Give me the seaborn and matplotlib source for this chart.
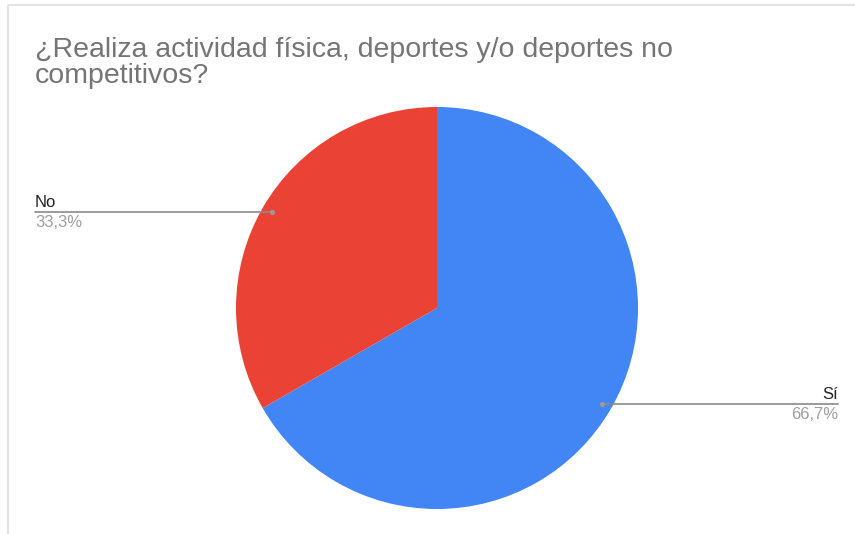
import matplotlib
matplotlib.use("Agg")
import matplotlib.pyplot as plt
import numpy as np
import seaborn as sns

# Survey answers and their shares (percent)
categories = ["Sí", "No"]
shares = [66.7, 33.3]
share_labels = ["66,7%", "33,3%"]
colors = ["#4285F4", "#EA4335"]

title = "¿Realiza actividad física, deportes y/o deportes no\ncompetitivos?"

sns.set_theme(style="white")
plt.rcParams["font.family"] = ["Liberation Sans", "DejaVu Sans"]

W, H = 855, 534
fig = plt.figure(figsize=(W / 100, H / 100), dpi=100)
ax = fig.add_axes([0, 0, 1, 1])

# Frame lines along the top and left edges
ax.plot([7.5, W], [H - 4.5, H - 4.5], color="#e3e3e3", lw=1.5, solid_capstyle="butt")
ax.plot([7.5, 7.5], [0, H - 4.5], color="#e3e3e3", lw=1.5, solid_capstyle="butt")

cx, cy, r = 437, H - 308, 201
wedges, _ = ax.pie(shares, colors=colors, startangle=90, counterclock=False,
                   center=(cx, cy), radius=r, frame=True,
                   wedgeprops=dict(linewidth=0))
ax.set_xlim(0, W)
ax.set_ylim(0, H)
ax.set_aspect("equal")
ax.axis("off")

ax.text(35, H - 83, title, fontsize=20.5, color="#757575", ha="left",
        va="baseline", linespacing=1.0)

# Leader lines with category name above and share below
start = 90.0
for cat, val, lab in zip(categories, shares, share_labels):
    span = val / 100 * 360
    mid = np.deg2rad(start - span / 2)
    start -= span
    px = cx + 0.95 * r * np.cos(mid)
    py = cy + 0.95 * r * np.sin(mid)
    if np.cos(mid) < 0:
        x_end, ha = 35, "left"
    else:
        x_end, ha = 838, "right"
    ax.plot([px, x_end], [py, py], color="#8a8a8a", lw=1.2, zorder=3)
    ax.scatter([px], [py], s=14, color="#9a9a9a", zorder=4, linewidths=0)
    ax.text(x_end, py + 5, cat, fontsize=12, color="#222222", ha=ha, va="baseline")
    ax.text(x_end, py - 3, lab, fontsize=12, color="#9e9e9e", ha=ha, va="top")

fig.savefig("out.png", dpi=100)
